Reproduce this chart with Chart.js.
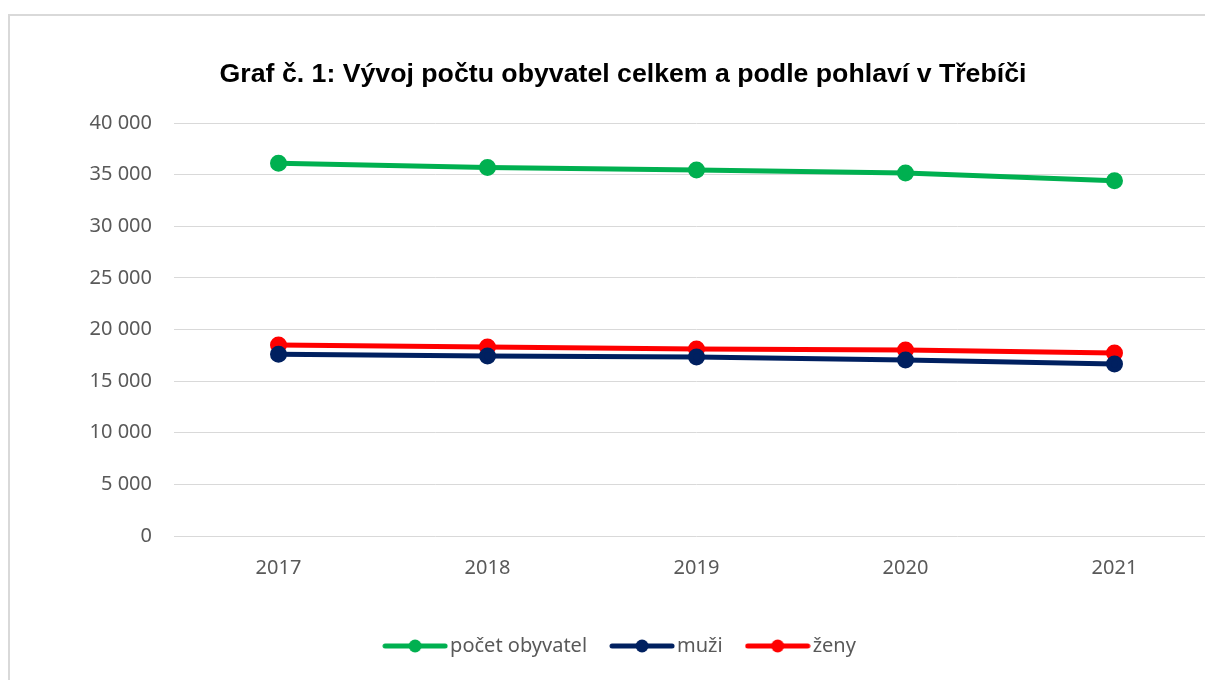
<!DOCTYPE html>
<html>
<head>
<meta charset="utf-8">
<script src="https://cdn.jsdelivr.net/npm/chart.js@4"></script>
<style>
  html, body { margin: 0; padding: 0; background: #fff; overflow: hidden; }
  #box { position: absolute; left: 8px; top: 14px; width: 1226px; height: 720px; border: 2px solid #d9d9d9; background: #fff; }
  #box canvas { display: block; }
</style>
</head>
<body>
<div id="box"><canvas id="graf" width="1226" height="720"></canvas></div>
<script>
// Data
const roky = ['2017', '2018', '2019', '2020', '2021'];
const pocetObyvatel = [36100, 35700, 35450, 35150, 34400];
const muzi = [17600, 17430, 17340, 17050, 16650];
const zeny = [18500, 18300, 18110, 18020, 17730];
const yTicks = [0, 5000, 10000, 15000, 20000, 25000, 30000, 35000, 40000];

const barvy = { celkem: '#00b050', muzi: '#002060', zeny: '#ff0000' };

// legenda: cara s bodem
function znacka(barva) {
    const c = document.createElement('canvas');
    c.width = 66; c.height = 14;
    const g = c.getContext('2d');
    g.strokeStyle = barva; g.lineWidth = 5; g.lineCap = 'round';
    g.beginPath(); g.moveTo(3, 7); g.lineTo(63, 7); g.stroke();
    g.fillStyle = barva;
    g.beginPath(); g.arc(33, 7, 6.5, 0, Math.PI * 2); g.fill();
    return c;
}

const fmt = v => String(v).replace(/\B(?=(\d{3})+(?!\d))/g, ' ');

const ds = (label, data, barva) => ({
    label, data,
    borderColor: barva, backgroundColor: barva,
    pointBackgroundColor: barva, pointBorderColor: barva,
    borderWidth: 5, pointRadius: 6, pointHoverRadius: 6,
    tension: 0
});

const ctx = document.getElementById('graf').getContext('2d');
new Chart(ctx, {
    type: 'line',
    data: {
        labels: roky,
        datasets: [
            ds('počet obyvatel', pocetObyvatel, barvy.celkem),
            ds('muži', muzi, barvy.muzi),
            ds('ženy', zeny, barvy.zeny)
        ]
    },
    options: {
        responsive: false,
        animation: false,
        layout: { padding: { left: 17, right: 17, top: 43, bottom: 70 } },
        plugins: {
            title: {
                display: true,
                text: 'Graf č. 1: Vývoj počtu obyvatel celkem a podle pohlaví v Třebíči',
                color: '#000',
                font: { family: 'Liberation Sans', size: 26.7, weight: 'bold' },
                padding: { top: 0, bottom: 32 }
            },
            legend: {
                position: 'bottom',
                labels: {
                    color: '#595959',
                    font: { family: 'Noto Sans', size: 20 },
                    usePointStyle: true,
                    pointStyleWidth: 50,
                    padding: 30,
                    generateLabels: ch => ch.data.datasets.map((d, i) => ({
                        text: d.label,
                        fontColor: '#595959',
                        pointStyle: znacka(d.borderColor),
                        hidden: false,
                        lineWidth: 0,
                        datasetIndex: i
                    }))
                }
            },
            tooltip: { enabled: false }
        },
        scales: {
            x: {
                offset: true,
                grid: { display: false },
                border: { display: false },
                afterFit: s => { s.height += 14; },
                ticks: { color: '#595959', font: { family: 'Noto Sans', size: 20 }, padding: 12 }
            },
            y: {
                min: 0, max: 40000,
                afterBuildTicks: s => { s.ticks = yTicks.map(v => ({ value: v })); },
                afterFit: s => { s.width = 147; },
                grid: { color: '#d9d9d9', lineWidth: 1, drawTicks: false },
                border: { display: false },
                ticks: {
                    color: '#595959', font: { family: 'Noto Sans', size: 20 }, padding: 22,
                    callback: v => fmt(v)
                }
            }
        }
    }
});
</script>
</body>
</html>
